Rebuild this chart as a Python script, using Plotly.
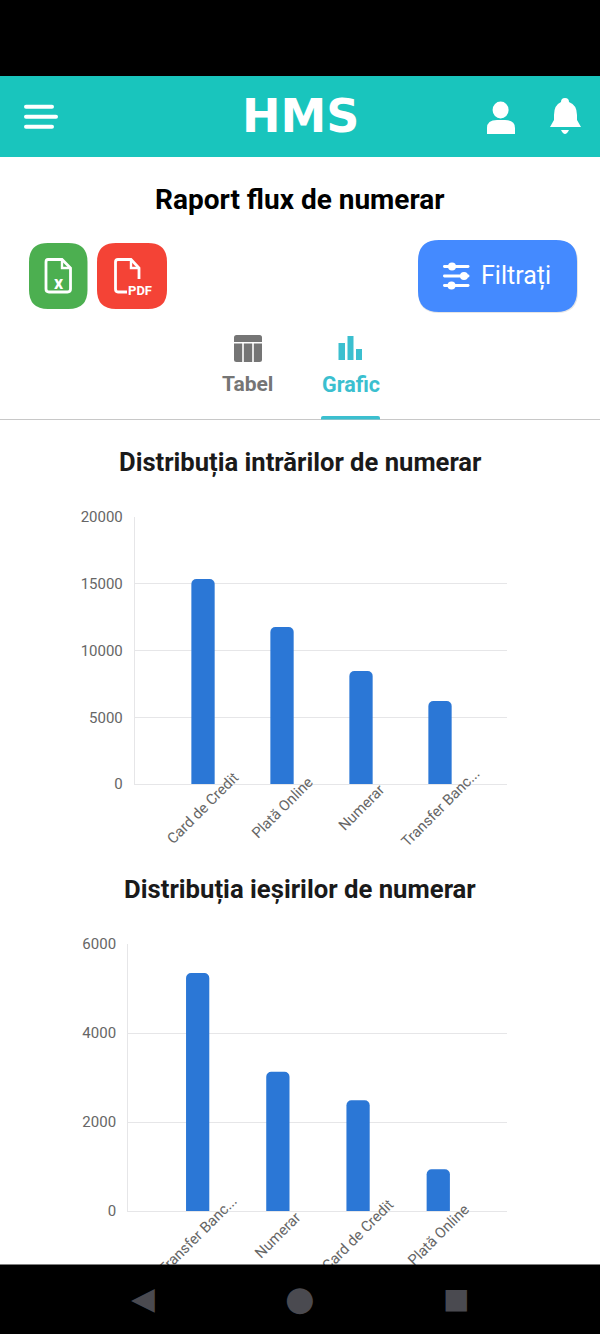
import plotly.graph_objects as go

# date
intrari_cat = ["Card de Credit", "Plată Online", "Numerar", "Transfer Banc..."]
intrari_val = [15350, 11760, 8460, 6220]
intrari_ticks = [0, 5000, 10000, 15000, 20000]

iesiri_cat = ["Transfer Banc...", "Numerar", "Card de Credit", "Plată Online"]
iesiri_val = [5350, 3130, 2490, 940]
iesiri_ticks = [0, 2000, 4000, 6000]

W, H = 600, 1334
TEAL = "#19C5BD"
TAB = "#3BBFCF"
GREY = "#757575"
BAR = "#2B77D6"
GRID = "#E6E6E8"
NAV = "#4A4A50"


def rrect(x0, y0, x1, y1, r):
    return (f"M{x0+r},{y0} L{x1-r},{y0} Q{x1},{y0} {x1},{y0+r} L{x1},{y1-r} Q{x1},{y1} {x1-r},{y1} "
            f"L{x0+r},{y1} Q{x0},{y1} {x0},{y1-r} L{x0},{y0+r} Q{x0},{y0} {x0+r},{y0} Z")


shapes = []


def fill(path, color):
    shapes.append(dict(type="path", path=path, fillcolor=color, line_width=0, xref="x3", yref="y3"))


def stroke(path, color, w):
    shapes.append(dict(type="path", path=path, line=dict(color=color, width=w), xref="x3", yref="y3"))


def oval(cx, cy, rx, ry, color):
    shapes.append(dict(type="circle", x0=cx-rx, x1=cx+rx, y0=cy-ry, y1=cy+ry, fillcolor=color,
                       line_width=0, xref="x3", yref="y3"))


# bare sus + antet
fill(f"M0,0 L{W},0 L{W},76 L0,76 Z", "#000000")
fill(f"M0,76 L{W},76 L{W},157 L0,157 Z", TEAL)

# hamburger
fill(rrect(24, 104.7, 54, 108.7, 2), "#FFFFFF")
fill(rrect(24, 114.7, 58, 118.7, 2), "#FFFFFF")
fill(rrect(24, 124.7, 54, 128.7, 2), "#FFFFFF")

# utilizator
oval(500.6, 110, 8, 8.5, "#FFFFFF")
fill("M487,134 L487,128 Q487,120 497,120 L505,120 Q515,120 515,128 L515,134 Z", "#FFFFFF")

# clopot
fill("M565,98 Q569,98 569,102 Q577,105 577,115 L577,120 L581,127 L550,127 L554,120 L554,115 "
     "Q554,105 561,102 Q561,98 565,98 Z", "#FFFFFF")
fill("M561,130 L569,130 Q567,134 565,134 Q563,134 561,130 Z", "#FFFFFF")

# butoane export
fill(rrect(29, 243, 87.5, 309, 19), "#4CAF50")
fill(rrect(97, 243, 167, 309, 19), "#F44336")
stroke("M48,259.5 L62,259.5 L70.5,268 L70.5,289 Q70.5,292 67.5,292 L49,292 Q46,292 46,289 L46,262 Q46,259.5 48,259.5 Z",
       "#FFFFFF", 2.8)
stroke("M62,259.5 L62,268 L70.5,268", "#FFFFFF", 2.4)
stroke("M127,292 L118,292 Q115.5,292 115.5,289 L115.5,262 Q115.5,259.5 118,259.5 L131,259.5 L139,268 L139,279",
       "#FFFFFF", 2.8)
stroke("M131,259.5 L131,268 L139,268", "#FFFFFF", 2.4)

# buton filtru
fill(rrect(418, 241, 578, 313, 21), "rgba(0,0,0,0.10)")
fill(rrect(418, 240, 577, 312, 21), "#448AFF")
for ly, kx in [(266.5, 452), (276, 464), (285.5, 451.5)]:
    fill(rrect(443, ly-1.4, 469.5, ly+1.4, 1.4), "#FFFFFF")
    oval(kx, ly, 4, 4, "#FFFFFF")

# tab-uri
fill(rrect(234, 335, 262, 362, 2.5), GREY)
fill("M234,342 L262,342 L262,343.5 L234,343.5 Z", "#FFFFFF")
fill("M242.2,343 L243.8,343 L243.8,362 L242.2,362 Z", "#FFFFFF")
fill("M252.2,343 L253.8,343 L253.8,362 L252.2,362 Z", "#FFFFFF")
fill("M338.5,343 L345,343 L345,360 L338.5,360 Z", TAB)
fill("M347.5,336 L353.5,336 L353.5,360 L347.5,360 Z", TAB)
fill("M356,349 L362,349 L362,360 L356,360 Z", TAB)
shapes.append(dict(type="line", x0=0, x1=W, y0=419.5, y1=419.5, line=dict(color="#C8C8C8", width=1.2),
                   xref="x3", yref="y3"))
fill("M321,419.5 L321,418 Q321,416 323,416 L378,416 Q380,416 380,418 L380,419.5 Z", TAB)


def text(x, y, s, size, color, family="Roboto", bold=False, **kw):
    if bold:
        s = f"<b>{s}</b>"
    return dict(x=x, y=y, xref="x3", yref="y3", text=s, showarrow=False,
                font=dict(family=family, size=size, color=color), **kw)


annotations = [
    text(300, 116, "HMS", 46, "#FFFFFF", family="DejaVu Sans", bold=True),
    text(300, 199, "Raport flux de numerar", 28, "#000000", bold=True),
    text(58.5, 282, "x", 18, "#FFFFFF", bold=True),
    text(139.5, 290, "PDF", 13, "#FFFFFF", bold=True),
    text(516, 276, "Filtrați", 25, "#FFFFFF"),
    text(247, 384, "Tabel", 21, GREY, bold=True),
    text(350.5, 384, "Grafic", 21.5, TAB, bold=True),
    text(300, 462, "Distribuția intrărilor de numerar", 25.6, "#1A1A1A", bold=True),
    text(300, 889, "Distribuția ieșirilor de numerar", 25.7, "#1A1A1A", bold=True),
]

# etichetele axei x: centrate sub fiecare bara, rotite la 45 grade
for xa, ya, cats in [("x", "y", intrari_cat), ("x2", "y2", iesiri_cat)]:
    for c in cats:
        annotations.append(dict(x=c, y=0, xref=xa, yref=f"{ya} domain", yanchor="middle", yshift=-24, text=c,
                                textangle=-45, showarrow=False,
                                font=dict(family="Roboto", size=14.8, color="#666666")))

# bara de navigare acopera etichetele taiate
annotations += [
    dict(x=300, y=1299.5, xref="x3", yref="y3", text="&nbsp;", showarrow=False, width=600, height=70,
         bgcolor="#000000", borderpad=0),
    text(143, 1298, "◀", 31, NAV, family="DejaVu Sans"),
    text(299.5, 1298, "●", 34, NAV, family="DejaVu Sans"),
    text(456, 1298, "■", 28, NAV, family="DejaVu Sans"),
]

fig = go.Figure()
fig.add_trace(go.Bar(x=intrari_cat, y=intrari_val, width=0.295, marker=dict(color=BAR, cornerradius=5, line_width=0)))
fig.add_trace(go.Bar(x=iesiri_cat, y=iesiri_val, width=0.29, marker=dict(color=BAR, cornerradius=5, line_width=0),
                     xaxis="x2", yaxis="y2"))
fig.add_trace(go.Scatter(x=[None], y=[None], xaxis="x3", yaxis="y3", showlegend=False))


def yaxis(top, bottom, ticks, anchor):
    return dict(domain=[1-bottom/H, 1-top/H], range=[0, ticks[-1]], tickvals=ticks, tickformat="d", anchor=anchor,
                showgrid=True, gridcolor=GRID, gridwidth=1.4, showline=True, linecolor=GRID, linewidth=1.4,
                zeroline=False, ticks="", ticklabelstandoff=8, fixedrange=True,
                tickfont=dict(family="Roboto", size=15, color="#666666"))


def xaxis(left, right, rng, anchor):
    return dict(domain=[left/W, right/W], range=rng, type="category", anchor=anchor, showticklabels=False,
                showgrid=False, showline=True, linecolor=GRID, linewidth=1.4, zeroline=False, ticks="",
                fixedrange=True)


fig.update_layout(
    width=W, height=H, margin=dict(l=0, r=0, t=0, b=0, autoexpand=False), showlegend=False,
    paper_bgcolor="#FFFFFF", plot_bgcolor="rgba(0,0,0,0)",
    xaxis=xaxis(135, 507, [-0.861, 3.848], "y"),
    yaxis=yaxis(517, 784, intrari_ticks, "x"),
    xaxis2=xaxis(128.3, 507, [-0.865, 3.857], "y2"),
    yaxis2=yaxis(944, 1211, iesiri_ticks, "x2"),
    xaxis3=dict(domain=[0, 1], range=[0, W], visible=False, anchor="y3", fixedrange=True),
    yaxis3=dict(domain=[0, 1], range=[H, 0], visible=False, anchor="x3", fixedrange=True),
    shapes=shapes, annotations=annotations,
)

fig.write_html("out.html", config={"displayModeBar": False},
               post_script="document.body.style.margin='0';")
